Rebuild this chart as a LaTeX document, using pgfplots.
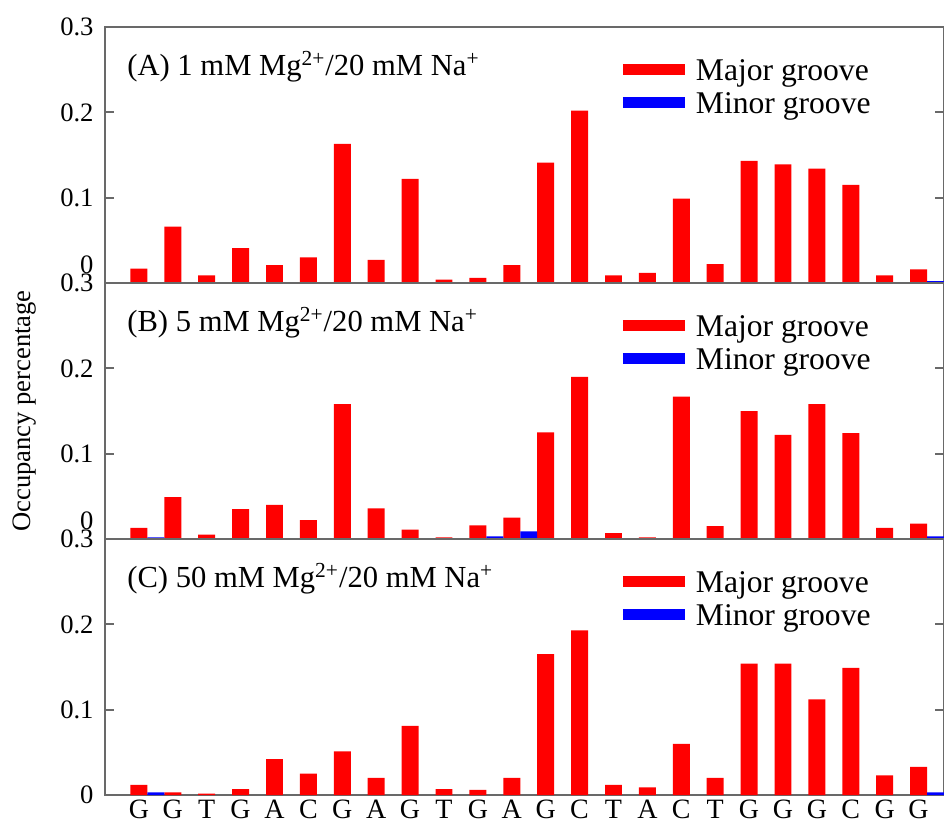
\documentclass[border=0pt]{standalone}
\usepackage{fontspec}
\setmainfont{Liberation Serif}
\usepackage{pgfplots}
\pgfplotsset{compat=1.18}
\definecolor{spine}{RGB}{105,105,105}
\tikzset{ptitle/.style={anchor=base west, inner sep=0pt, yshift=-24.3pt, font=\fontsize{15.3}{16}\selectfont}}
\pgfplotsset{
  panel/.style={
    scale only axis, width=419.5pt, height=128pt,
    xmin=0, xmax=24.75, ymin=0, ymax=0.3,
    axis line style={spine, line width=1.1pt},
    tick style={spine, line width=0.9pt},
    major tick length=4.5pt,
    tick align=inside,
    xtick=\empty,
    ytick={0,0.1,0.2,0.3},
    yticklabel style={font=\fontsize{13.3}{13}\selectfont, xshift=-2.2pt},
    legend cell align=left,
    legend style={at={(rel axis cs:0.6103,0.877)}, anchor=north west,
      draw=none, fill=none, inner sep=0pt, row sep=0pt,
      font=\fontsize{15.8}{16}\selectfont,
      nodes={inner sep=0pt, text height=11pt, text depth=5.5pt}},
  },
  majbar/.style={ybar, bar width=0.5, bar shift=0pt, fill=red, draw=none,
    legend image code/.code={\draw[draw=red, line width=5.5pt] (0pt,3pt) -- (31pt,3pt); \path (36.5pt,0pt);}},
  minbar/.style={ybar, bar width=0.5, bar shift=0pt, fill=blue, draw=none,
    legend image code/.code={\draw[draw=blue, line width=5.5pt] (0pt,3pt) -- (31pt,3pt); \path (36.5pt,0pt);}},
}
\begin{document}
\begin{tikzpicture}
\useasboundingbox (0,0) rectangle (472pt,-413.5pt);
% Panel A
\begin{axis}[panel, at={(52.5pt,-141.5pt)}, anchor=south west,
  yticklabels={\raisebox{5pt}[0pt][0pt]{0},0.1,0.2,0.3}]
\addplot[majbar] coordinates {(1,0.017) (2,0.066) (3,0.009) (4,0.041) (5,0.021) (6,0.030) (7,0.163) (8,0.027) (9,0.122) (10,0.004) (11,0.006) (12,0.021) (13,0.141) (14,0.202) (15,0.009) (16,0.012) (17,0.099) (18,0.022) (19,0.143) (20,0.139) (21,0.134) (22,0.115) (23,0.009) (24,0.016)};
\addplot[minbar] coordinates {(24.5,0.002)};
\legend{Major groove, Minor groove}
\node[ptitle] at (rel axis cs:0.0262,1) {(A) 1 mM Mg\textsuperscript{2+}/20 mM Na\textsuperscript{+}};
\end{axis}
% Panel B
\begin{axis}[panel, at={(52.5pt,-269.5pt)}, anchor=south west,
  yticklabels={\raisebox{5pt}[0pt][0pt]{0},0.1,0.2,0.3}]
\addplot[majbar] coordinates {(1,0.013) (2,0.049) (3,0.005) (4,0.035) (5,0.040) (6,0.022) (7,0.158) (8,0.036) (9,0.011) (10,0.002) (11,0.016) (12,0.025) (13,0.125) (14,0.190) (15,0.007) (16,0.002) (17,0.167) (18,0.015) (19,0.150) (20,0.122) (21,0.158) (22,0.124) (23,0.013) (24,0.018)};
\addplot[minbar] coordinates {(1.5,0.002) (11.5,0.003) (12.5,0.009) (24.5,0.003)};
\legend{Major groove, Minor groove}
\node[ptitle] at (rel axis cs:0.0262,1) {(B) 5 mM Mg\textsuperscript{2+}/20 mM Na\textsuperscript{+}};
\end{axis}
% Panel C
\begin{axis}[panel, at={(52.5pt,-397.5pt)}, anchor=south west,
  yticklabels={0,0.1,0.2,0.3},
  xtick={1,2,...,24},
  xticklabels={G,G,T,G,A,C,G,A,G,T,G,A,G,C,T,A,C,T,G,G,G,C,G,G},
  xtick style={draw=none},
  xticklabel style={font=\fontsize{14}{14}\selectfont, yshift=1pt}]
\addplot[majbar] coordinates {(1,0.012) (2,0.003) (3,0.0015) (4,0.007) (5,0.042) (6,0.025) (7,0.051) (8,0.020) (9,0.081) (10,0.007) (11,0.006) (12,0.020) (13,0.165) (14,0.193) (15,0.012) (16,0.009) (17,0.060) (18,0.020) (19,0.154) (20,0.154) (21,0.112) (22,0.149) (23,0.023) (24,0.033)};
\addplot[minbar] coordinates {(1.5,0.003) (24.5,0.003)};
\legend{Major groove, Minor groove}
\node[ptitle] at (rel axis cs:0.0262,1) {(C) 50 mM Mg\textsuperscript{2+}/20 mM Na\textsuperscript{+}};
\end{axis}
\node[rotate=90, font=\fontsize{13.3}{13}\selectfont] at (12.25pt,-205.5pt) {Occupancy percentage};
\end{tikzpicture}
\end{document}
